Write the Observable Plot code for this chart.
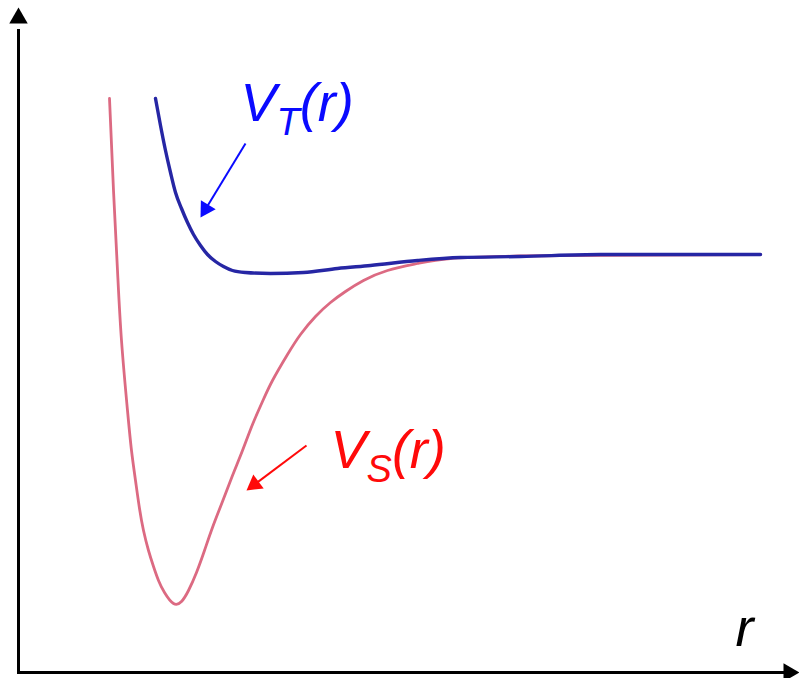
<!DOCTYPE html>
<html><head><meta charset="utf-8">
<script src="https://cdn.jsdelivr.net/npm/d3@7"></script>
<script src="https://cdn.jsdelivr.net/npm/@observablehq/plot@0.6"></script>
<style>html,body{margin:0;padding:0;background:#fff;} #chart svg{display:block}</style>
</head><body><div id="chart"></div>
<script>
// Singlet potential V_S(r)
const rS = [0.91,0.95,0.99,1.03,1.09,1.13,1.17,1.21,1.25,1.30,1.35,1.40,1.46,1.55,1.63,1.70,1.78,1.86,1.94,2.04,2.14,2.24,2.34,2.44,2.54,2.69,2.82,2.97,3.12,3.27,3.45,3.69,3.99,4.32,4.82,5.42,7.42];
const vS = [1.56,0.64,-0.16,-0.86,-1.56,-1.96,-2.26,-2.54,-2.76,-2.96,-3.12,-3.26,-3.38,-3.49,-3.47,-3.36,-3.18,-2.96,-2.73,-2.47,-2.21,-1.96,-1.70,-1.47,-1.26,-1.00,-0.80,-0.62,-0.48,-0.37,-0.26,-0.16,-0.09,-0.04,-0.02,-0.01,0];
// Triplet potential V_T(r)
const rT = [1.37,1.42,1.47,1.52,1.57,1.63,1.69,1.75,1.82,1.89,1.97,2.05,2.14,2.27,2.52,2.85,3.19,3.52,3.99,4.42,5.02,5.82,7.42];
const vT = [1.56,1.29,1.04,0.82,0.62,0.46,0.32,0.20,0.09,0.00,-0.07,-0.12,-0.16,-0.18,-0.19,-0.18,-0.14,-0.11,-0.06,-0.03,-0.02,0,0];
// Labels (anchor in data units)
const labelMain = ["V","V","r"];
const labelSub  = ["T","S",""];
const labelTail = ["(r)","(r)",""];
const labelR = [2.22, 3.12, 7.17];
const labelV = [1.34, -2.13, -3.91];
// Annotation arrows: from (r1,v1) to (r2,v2)
const arrowFromR = [2.27, 2.88];
const arrowFromV = [1.11, -1.91];
const arrowToR = [1.82, 2.28];
const arrowToV = [0.37, -2.36];

const xDomain = [0, 7.81], xRange = [18, 799];
const yDomain = [-4.18, 2.47], yRange = [672, 7];
const sx = d3.scaleLinear(xDomain, xRange);
const sy = d3.scaleLinear(yDomain, yRange);

const singlet = rS.map((r, i) => ({r, v: vS[i]}));
const triplet = rT.map((r, i) => ({r, v: vT[i]}));
const labels = labelMain.map((m, i) => ({m, i, r: labelR[i], v: labelV[i]}));
const labelColors = ["#0a0aff", "#ff0a0a", "#000"];
const arrowColors = ["#0a0aff", "#ff0a0a"];

function triR(h) { const k = h / 3; const size = 3 * Math.sqrt(3) * k * k; return Math.sqrt(size / Math.PI); }

const arrowMarks = [];
arrowFromR.forEach((_, i) => {
  const x1 = sx(arrowFromR[i]), y1 = sy(arrowFromV[i]);
  const x2 = sx(arrowToR[i]), y2 = sy(arrowToV[i]);
  const L = Math.hypot(x2 - x1, y2 - y1);
  const ux = (x2 - x1) / L, uy = (y2 - y1) / L;
  const h = 15, c = 2 * h / 3;
  const ang = Math.atan2(ux, -uy) * 180 / Math.PI;
  const base = {r: sx.invert(x2 - ux * (h - 1)), v: sy.invert(y2 - uy * (h - 1))};
  arrowMarks.push(Plot.link([0], {x1: () => arrowFromR[i], y1: () => arrowFromV[i], x2: () => base.r, y2: () => base.v, stroke: arrowColors[i], strokeWidth: 2}));
  arrowMarks.push(Plot.dot([0], {x: () => arrowToR[i], y: () => arrowToV[i], symbol: "triangle", r: triR(h), fill: arrowColors[i], stroke: "none", rotate: ang, dx: -ux * c, dy: -uy * c}));
});

const H = 16, C = 2 * H / 3;
const svg = Plot.plot({
  width: 799, height: 678,
  marginLeft: 0, marginRight: 0, marginTop: 0, marginBottom: 0,
  style: {background: "#fff"},
  x: {domain: xDomain, range: xRange, axis: null},
  y: {domain: yDomain, range: yRange, axis: null},
  marks: [
    Plot.ruleX([xDomain[0]], {y1: yDomain[0], y2: 2.25, stroke: "#000", strokeWidth: 3}),
    Plot.ruleY([yDomain[0]], {x1: xDomain[0] - 0.01, x2: 7.70, stroke: "#000", strokeWidth: 3}),
    Plot.dot([0], {x: () => xDomain[0], y: () => yDomain[1], symbol: "triangle", r: triR(H), fill: "#000", stroke: "none", dy: C}),
    Plot.dot([0], {x: () => xDomain[1], y: () => yDomain[0], symbol: "triangle", r: triR(H), fill: "#000", stroke: "none", rotate: 90, dx: -C}),
    Plot.line(singlet, {x: "r", y: "v", curve: "natural", stroke: "#dc6a82", strokeWidth: 2.8}),
    Plot.line(triplet, {x: "r", y: "v", curve: "monotone-x", stroke: "#2626a4", strokeWidth: 3.4}),
    ...arrowMarks,
    Plot.text(labels, {x: "r", y: "v", text: "m", fill: (d) => labelColors[d.i], textAnchor: "start", lineAnchor: "bottom", fontSize: 54, fontStyle: "italic", fontFamily: "Liberation Sans, Arial, sans-serif"})
  ]
});

d3.select(svg).selectAll('g[aria-label="text"] text').each(function(_, i) {
  if (!labelSub[i]) return;
  const t = d3.select(this);
  t.text(null);
  t.append("tspan").text(labelMain[i]);
  t.append("tspan").attr("dy", 14).attr("font-size", 38).text(labelSub[i]);
  t.append("tspan").attr("dy", -14).text(labelTail[i]);
});

document.getElementById("chart").append(svg);
</script>
</body></html>
